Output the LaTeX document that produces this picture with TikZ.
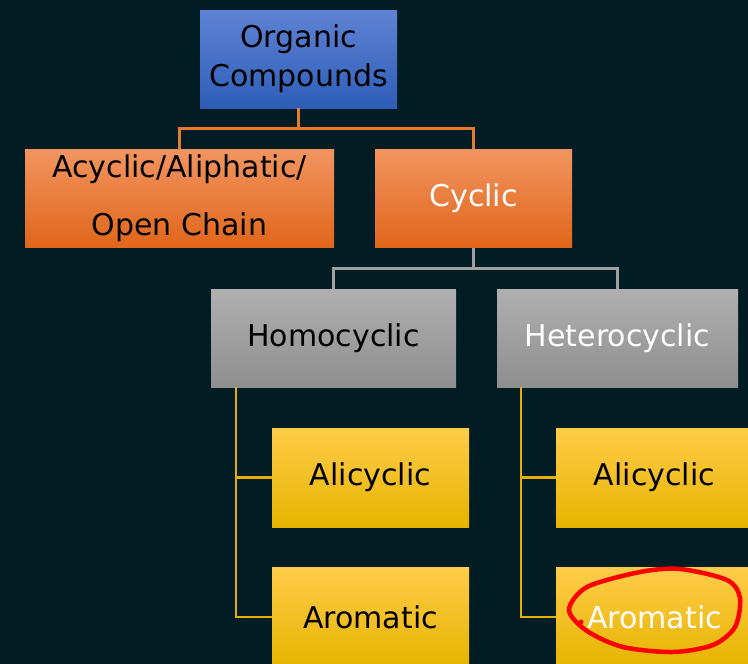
\documentclass[tikz,border=0pt]{standalone}
\usepackage{fontspec}
\setmainfont{DejaVu Sans}
\usepackage{tikz}
\usetikzlibrary{shapes,positioning,backgrounds}
\definecolor{bgdark}{RGB}{2,28,35}
\definecolor{blueTop}{RGB}{95,131,212}
\definecolor{blueBot}{RGB}{45,93,184}
\definecolor{orTop}{RGB}{242,148,96}
\definecolor{orMid}{RGB}{244,124,40}
\definecolor{orBot}{RGB}{224,102,26}
\definecolor{grTop}{RGB}{176,176,176}
\definecolor{grBot}{RGB}{142,142,142}
\definecolor{yeTop}{RGB}{255,204,74}
\definecolor{yeMid}{RGB}{255,196,0}
\definecolor{yeBot}{RGB}{230,180,0}
\definecolor{lineor}{RGB}{232,122,46}
\definecolor{linegr}{RGB}{160,160,160}
\definecolor{lineye}{RGB}{230,176,0}
\tikzstyle{box} = [rectangle, inner sep=0pt, align=center, font=\fontsize{30pt}{39pt}\selectfont, minimum height=98pt]
\tikzstyle{bluebox} = [box, top color=blueTop, bottom color=blueBot, minimum width=197pt]
\tikzstyle{orbox} = [box, top color=orTop, middle color=orMid, bottom color=orBot]
\tikzstyle{grbox} = [box, top color=grTop, bottom color=grBot]
\tikzstyle{yebox} = [box, top color=yeTop, middle color=yeMid, bottom color=yeBot, minimum width=197pt, minimum height=99pt]
\tikzstyle{oline} = [draw=lineor, line width=2.5pt]
\tikzstyle{gline} = [draw=linegr, line width=2.5pt]
\tikzstyle{yline} = [draw=lineye, line width=2.5pt]
\tikzstyle{redmark} = [draw=red, line width=4.5pt, line cap=round]

\begin{document}
\begin{tikzpicture}[node distance = 139.5pt]
		\useasboundingbox (0,0) rectangle (748pt,-664pt);
		\clip (0,0) rectangle (748pt,-664pt);
		\fill[bgdark] (0,0) rectangle (748pt,-664pt);
		\node[bluebox] (org) at (298.5pt,-59pt) {Organic\\Compounds};
		\node[orbox, below of=org, xshift=-119pt, minimum width=309pt] (acyc) {Acyclic/Aliphatic/\\[19pt]Open Chain};
		\node[orbox, below of=org, xshift=175pt, minimum width=197pt, text=white] (cyc) {Cyclic};
		\node[grbox, below of=cyc, xshift=-140pt, minimum width=245pt] (homo) {Homocyclic};
		\node[grbox, below of=cyc, xshift=144pt, minimum width=241pt, text=white] (hetero) {Heterocyclic};
		\node[yebox, below of=homo, xshift=37pt] (alic1) {Alicyclic};
		\node[yebox, below of=alic1] (arom1) {Aromatic};
		\node[yebox, below of=hetero, xshift=37pt] (alic2) {Alicyclic};
		\node[yebox, below of=alic2, text=white] (arom2) {Aromatic};
		% connectors
		\draw[oline] (org.south) -- ++(0,-20.5pt) coordinate (obar) -| (acyc.north);
		\draw[oline] (obar) -| (cyc.north);
		\draw[gline] (cyc.south) -- ++(0,-21pt) coordinate (gbar) -| (homo.north);
		\draw[gline] (gbar) -| (hetero.north);
		\draw[yline] ([xshift=25pt]homo.south west) |- (alic1.west);
		\draw[yline] ([xshift=25pt]homo.south west) |- (arom1.west);
		\draw[yline] ([xshift=24pt]hetero.south west) |- (alic2.west);
		\draw[yline] ([xshift=24pt]hetero.south west) |- (arom2.west);
		% hand drawn mark
		\draw[redmark] plot[smooth cycle] coordinates {(569pt,-610pt) (587pt,-587pt) (640pt,-572pt) (680pt,-569pt) (727pt,-580pt) (740pt,-598pt) (735pt,-627pt) (713pt,-645pt) (673pt,-652pt) (623pt,-647pt) (587pt,-631pt)};
		\fill[red] (581pt,-622pt) circle (2.5pt);
	\end{tikzpicture}
\end{document}
